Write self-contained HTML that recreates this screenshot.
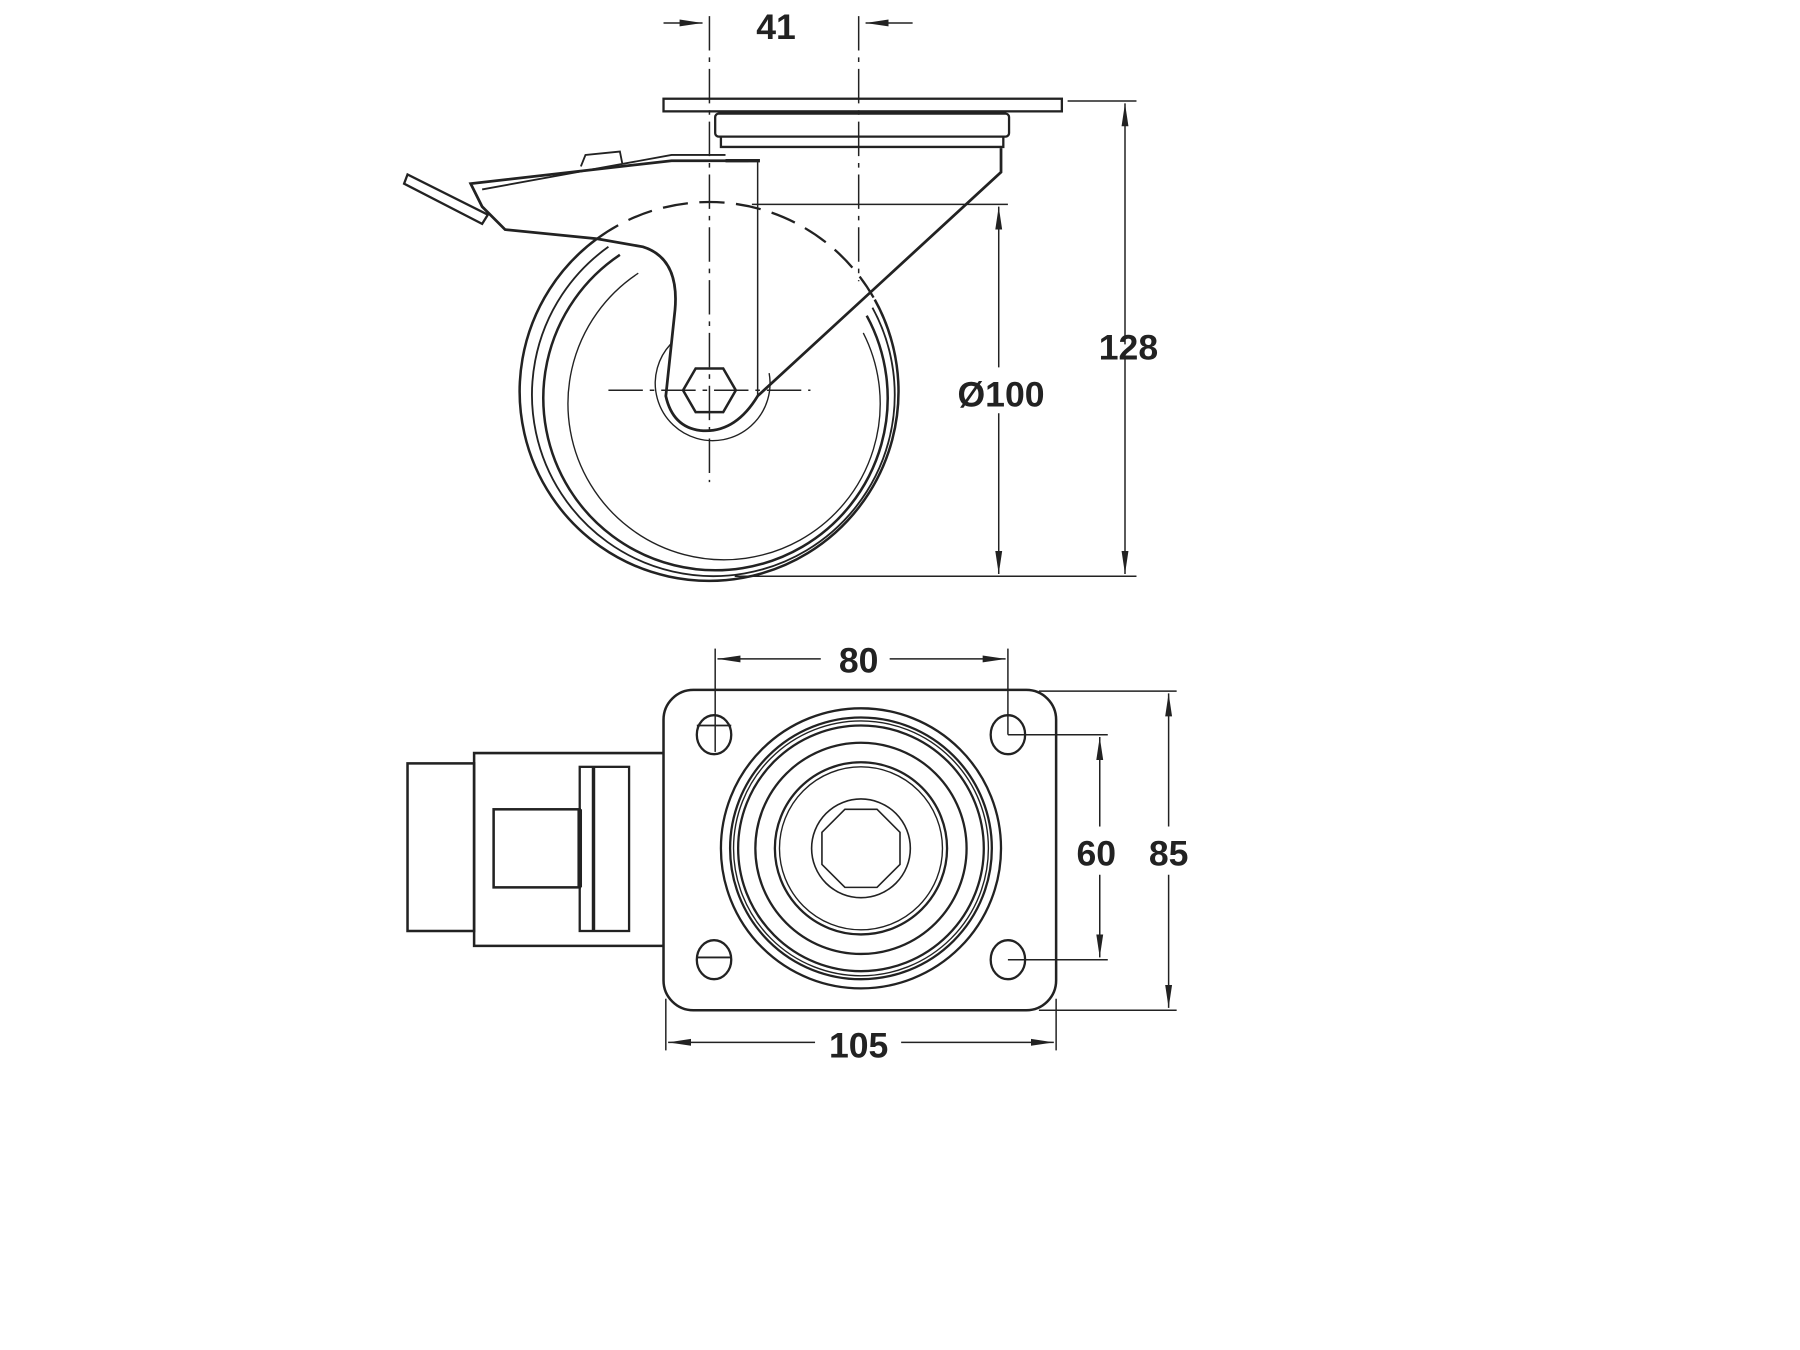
<!DOCTYPE html>
<html><head><style>html,body{margin:0;padding:0;background:#fff;}svg{display:block}text{font-family:"Liberation Sans",Arial,sans-serif;font-weight:bold;font-size:31px;fill:#222}</style></head>
<body>
<svg width="1800" height="1350" viewBox="0 0 1568 1176" xmlns="http://www.w3.org/2000/svg">
<defs>
<marker id="a" viewBox="0 0 20 8" refX="20" refY="4" markerWidth="20" markerHeight="8" markerUnits="userSpaceOnUse" orient="auto"><path d="M0,1 L20,4 L0,7 Z" fill="#222"/></marker>
</defs>
<g stroke="#222" fill="none" stroke-width="1.3">
<!-- TOP VIEW -->
<rect x="578" y="86" width="347" height="11" stroke-width="2"/>
<rect x="623" y="99" width="256" height="20" rx="3" stroke-width="2"/>
<path d="M628 119 V128 H874 V119" stroke-width="2"/>
<!-- wheel -->
<path d="M520 208 A165 165 0 1 0 762 261" stroke-width="2.2"/>
<path d="M530 215 A158 158 0 1 0 760 268" stroke-width="1.6"/>
<path d="M540 222 A150 150 0 1 0 755 275" stroke-width="2.2"/>
<path d="M556 238 A136 136 0 1 0 752 290" stroke-width="1.2"/>
<path d="M584 300 A50 50 0 1 0 670 325" stroke-width="1.2"/>
<path d="M520 208 A165 165 0 0 1 762 261" stroke-width="2" stroke-dasharray="22 10"/>
<!-- fork -->
<path d="M872 129 V150 L660 345 Q640 378 610 375 Q586 372 580 345 L588 270 Q592 225 560 215 L520 208 L440 200 L420 180 L410 160 L585 140 H652" stroke-width="2.4"/>
<path d="M420 165 L585 135 H632" stroke-width="1.6"/>
<path d="M355 152 L352 160 L420 195 L425 187 Z" stroke-width="2"/>
<path d="M506 145 L510 135 L540 132 L542 142" stroke-width="1.6"/>
<line x1="632" y1="140" x2="662" y2="140" stroke-width="3"/>
<polygon points="606,321 630,321 641,340 630,359 606,359 595,340" stroke-width="2.2"/>
<!-- centerlines -->
<line x1="618" y1="14" x2="618" y2="420" stroke-dasharray="30 6 4 6"/>
<line x1="748" y1="14" x2="748" y2="245" stroke-dasharray="30 6 4 6"/>
<line x1="530" y1="340" x2="706" y2="340" stroke-dasharray="30 6 4 6"/>
<line x1="660" y1="140" x2="660" y2="345"/>
<!-- dims top -->
<line x1="578" y1="20" x2="612" y2="20" marker-end="url(#a)"/>
<line x1="795" y1="20" x2="754" y2="20" marker-end="url(#a)"/>
<line x1="930" y1="88" x2="990" y2="88"/>
<line x1="640" y1="502" x2="990" y2="502"/>
<line x1="980" y1="300" x2="980" y2="90" marker-end="url(#a)"/>
<line x1="980" y1="310" x2="980" y2="500" marker-end="url(#a)"/>
<line x1="655" y1="178" x2="878" y2="178"/>
<line x1="870" y1="320" x2="870" y2="180" marker-end="url(#a)"/>
<line x1="870" y1="360" x2="870" y2="500" marker-end="url(#a)"/>
<!-- BOTTOM VIEW -->
<rect x="578" y="601" width="342" height="279" rx="26" stroke-width="2.2"/>
<rect x="355" y="665" width="58" height="146" stroke-width="2.2"/>
<path d="M578 656 H413 V824 H578" stroke-width="2.2"/>
<rect x="430" y="705" width="75" height="68" stroke-width="2.2"/>
<line x1="505" y1="705" x2="505" y2="773" stroke-width="4"/>
<rect x="505" y="668" width="43" height="143" stroke-width="2"/>
<line x1="517" y1="668" x2="517" y2="811" stroke-width="3"/>
<ellipse cx="622" cy="640" rx="15" ry="17" stroke-width="2"/>
<ellipse cx="878" cy="640" rx="15" ry="17" stroke-width="2"/>
<ellipse cx="622" cy="836" rx="15" ry="17" stroke-width="2"/>
<ellipse cx="878" cy="836" rx="15" ry="17" stroke-width="2"/>
<line x1="607" y1="834" x2="637" y2="834" stroke-width="1.6"/>
<line x1="607" y1="632" x2="637" y2="632" stroke-width="1.6"/>
<g stroke-width="2">
<circle cx="750" cy="739" r="122"/>
<circle cx="750" cy="739" r="114"/>
<circle cx="750" cy="739" r="111" stroke-width="1.2"/>
<circle cx="750" cy="739" r="107"/>
<circle cx="750" cy="739" r="92"/>
<circle cx="750" cy="739" r="75"/>
<circle cx="750" cy="739" r="71" stroke-width="1.2"/>
<circle cx="750" cy="739" r="43" stroke-width="1.4"/>
<polygon points="736,705 764,705 784,725 784,753 764,773 736,773 716,753 716,725" stroke-width="1.4"/>
</g>
<!-- dims bottom -->
<line x1="623" y1="565" x2="623" y2="655"/>
<line x1="878" y1="565" x2="878" y2="640"/>
<line x1="715" y1="574" x2="625" y2="574" marker-end="url(#a)"/>
<line x1="775" y1="574" x2="876" y2="574" marker-end="url(#a)"/>
<line x1="905" y1="602" x2="1025" y2="602"/>
<line x1="905" y1="880" x2="1025" y2="880"/>
<line x1="878" y1="640" x2="965" y2="640"/>
<line x1="878" y1="836" x2="965" y2="836"/>
<line x1="958" y1="720" x2="958" y2="642" marker-end="url(#a)"/>
<line x1="958" y1="762" x2="958" y2="834" marker-end="url(#a)"/>
<line x1="1018" y1="720" x2="1018" y2="604" marker-end="url(#a)"/>
<line x1="1018" y1="762" x2="1018" y2="878" marker-end="url(#a)"/>
<line x1="580" y1="870" x2="580" y2="915"/>
<line x1="920" y1="870" x2="920" y2="915"/>
<line x1="710" y1="908" x2="582" y2="908" marker-end="url(#a)"/>
<line x1="785" y1="908" x2="918" y2="908" marker-end="url(#a)"/>
</g>
<text x="676" y="34" text-anchor="middle">41</text>
<text x="983" y="313" text-anchor="middle">128</text>
<text x="872" y="354" text-anchor="middle">Ø100</text>
<text x="748" y="586" text-anchor="middle">80</text>
<text x="955" y="754" text-anchor="middle">60</text>
<text x="1018" y="754" text-anchor="middle">85</text>
<text x="748" y="921" text-anchor="middle">105</text>
</svg>
</body></html>
